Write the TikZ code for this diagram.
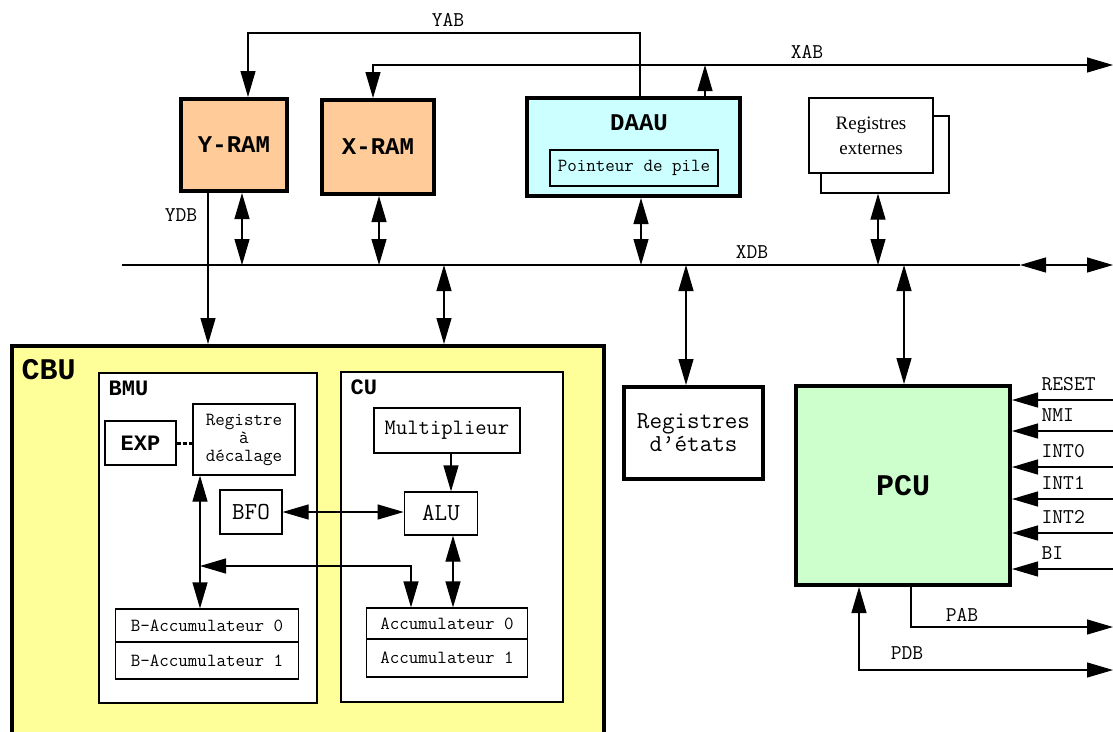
\documentclass[tikz,border=0pt]{standalone}
\usepackage{fontspec}
\setmainfont{Liberation Serif}
\newfontfamily\boldmono{Liberation Mono}
\usetikzlibrary{arrows.meta,positioning}
\definecolor{ramFill}{HTML}{FFCC99}
\definecolor{daauFill}{HTML}{CCFFFF}
\definecolor{cbuFill}{HTML}{FFFF99}
\definecolor{pcuFill}{HTML}{CCFFCC}
\tikzset{
    % unit blocks and inner blocks
    bigunit/.style={draw,line width=4pt,inner sep=0pt,align=center},
    block/.style={draw,line width=1.2pt,fill=white,inner sep=0pt,align=center},
    mono/.style 2 args={font=\ttfamily\fontsize{#1}{#2}\selectfont},
    monob/.style={font=\boldmono\bfseries\fontsize{#1}{#1}\selectfont},
    sig/.style={inner sep=0pt,mono={21pt}{23pt}},
    unitname/.style={inner sep=0pt,anchor=west}
}

\begin{document}
\begin{tikzpicture}[x=1pt,y=1pt,>={Triangle[length=26pt,width=15pt]},line width=1.2pt]
  \useasboundingbox (0,0) rectangle (1113,-731);
  \clip (0,0) rectangle (1113,-731);

  % Memories and address unit
  \node[bigunit,fill=ramFill,minimum width=106pt,minimum height=92pt,monob=24pt] (yram) at (234,-145) {Y-RAM};
  \node[bigunit,fill=ramFill,minimum width=112pt,minimum height=94pt,monob=24pt] (xram) at (378,-147) {X-RAM};
  \node[bigunit,fill=daauFill,minimum width=213pt,minimum height=98pt] (daau) at (633.5,-147) {};
  \node[inner sep=0pt,monob=24pt] (daau-name) at (639,-123) {DAAU};
  \node[block,fill=daauFill,minimum width=168pt,minimum height=36pt,mono={18.5pt}{20pt}] (pile) at (634,-168) {Pointeur de pile};

  % External registers (two stacked sheets)
  \node[block,minimum width=128pt,minimum height=77pt] (regextb) at (885,-154.5) {};
  \node[block,minimum width=124pt,minimum height=75pt,font=\rmfamily\fontsize{19pt}{25pt}\selectfont] (regext) at (871,-135.5) {Registres\\externes};

  % Status registers and program control unit
  \node[bigunit,fill=white,minimum width=139pt,minimum height=92pt,mono={24.4pt}{23pt}] (regst) at (693.5,-433) {Registres\\d’états};
  \node[bigunit,fill=pcuFill,minimum width=214pt,minimum height=199pt,monob=30pt] (pcu) at (903,-485.5) {PCU};

  % CBU with BMU and CU
  \node[bigunit,fill=cbuFill,minimum width=592pt,minimum height=414pt] (cbu) at (308,-553) {};
  \node[unitname,monob=30pt] (cbu-name) at (21,-370) {CBU};
  \node[block,minimum width=218pt,minimum height=330pt] (bmu) at (208,-538) {};
  \node[unitname,monob=22pt] (bmu-name) at (108,-388) {BMU};
  \node[block,minimum width=222pt,minimum height=330pt] (cu) at (452,-537) {};
  \node[unitname,monob=22pt] (cu-name) at (350,-387) {CU};

  \node[block,minimum width=71pt,minimum height=44pt,monob=22pt] (exp) at (140.5,-443) {EXP};
  \node[block,minimum width=102pt,minimum height=71pt,mono={18.5pt}{18pt}] (reg) at (244,-439.5) {Registre\\à\\décalage};
  \node[block,minimum width=62pt,minimum height=44pt,mono={24.4pt}{23pt}] (bfo) at (251,-512) {BFO};
  \node[block,minimum width=146pt,minimum height=45pt,mono={22pt}{21pt}] (mult) at (447,-430.5) {Multiplieur};
  \node[block,minimum width=73.5pt,minimum height=43pt,mono={24.4pt}{23pt}] (alu) at (441,-513.5) {ALU};
  \node[block,minimum width=183.5pt,minimum height=33pt,mono={18.5pt}{18pt}] (bacc0) at (207,-625.5) {B-Accumulateur 0};
  \node[block,minimum width=183.5pt,minimum height=37pt,mono={18.5pt}{18pt},below=-1.2pt of bacc0] (bacc1) {B-Accumulateur 1};
  \node[block,minimum width=161pt,minimum height=31pt,mono={18.5pt}{18pt}] (acc0) at (447,-623.5) {Accumulateur 0};
  \node[block,minimum width=161pt,minimum height=38pt,mono={18.5pt}{18pt},below=-1.2pt of acc0] (acc1) {Accumulateur 1};

  % Bus points
  \coordinate (yab-l) at (248,-33);
  \coordinate (yab-r) at (640,-33);
  \coordinate (xab-l) at (373,-65);
  \coordinate (xab-daau) at (705,-65);
  \coordinate (xab-e) at (1113,-65);
  \coordinate (xdb-w) at (122,-265);
  \coordinate (xdb-r) at (1020,-265);
  \coordinate (xdb-e) at (1113,-265);
  \coordinate (ydb) at (208,-215);
  \foreach \tap/\xx in {yram/242,xram/379,cbu/444,daau/641,regst/686,regext/878,pcu/904}
    \coordinate (t-\tap) at (\xx,-265);

  % Address buses
  \draw[->] (yab-r |- daau.north) -- (yab-r) -- (yab-l) -- (yab-l |- yram.north);
  \draw[<->] (xab-l |- xram.north) -- (xab-l) -- (xab-e);
  \draw[->] (xab-daau |- daau.north) -- (xab-daau);
  \node[sig] (yab-lbl) at (448,-20) {YAB};
  \node[sig] (xab-lbl) at (807,-52) {XAB};

  % Data bus XDB
  \draw (xdb-w) -- (xdb-r);
  \draw[<->] (xdb-r) -- (xdb-e);
  \node[sig] (xdb-lbl) at (752,-252) {XDB};
  \draw[<->] (t-yram |- yram.south) -- (t-yram);
  \draw[<->] (t-xram |- xram.south) -- (t-xram);
  \draw[<->] (t-cbu) -- (t-cbu |- cbu.north);
  \draw[<->] (t-daau |- daau.south) -- (t-daau);
  \draw[<->] (t-regst) -- (t-regst |- regst.north);
  \draw[<->] (t-regext |- regextb.south) -- (t-regext);
  \draw[<->] (t-pcu) -- (t-pcu |- pcu.north);

  % YDB
  \draw[->] (ydb |- yram.south) -- (ydb |- cbu.north);
  \node[sig] (ydb-lbl) at (181,-215) {YDB};

  % Inside CBU
  \draw[line width=3pt,dash pattern=on 4pt off 2pt] (exp.east) -- (exp.east -| reg.west);
  \draw[<->] (bfo.east) -- (bfo.east -| alu.west);
  \coordinate (mjoin) at (451,-470);
  \draw[->] (mjoin |- mult.south) -- (mjoin |- alu.north);
  \coordinate (aljoin) at (453,-570);
  \draw[<->] (aljoin |- alu.south) -- (aljoin |- acc0.north);
  \coordinate (bjoin) at (200,-566);
  \coordinate (ajoin) at (411,-566);
  \draw[<->] (bjoin |- reg.south) -- (bjoin |- bacc0.north);
  \draw[<->] (bjoin) -- (ajoin) -- (ajoin |- acc0.north);

  % PCU inputs
  \foreach \sig/\yy in {RESET/400,NMI/431,INT0/467,INT1/499,INT2/533,BI/569}{
    \coordinate (in-\sig) at (1113,-\yy);
    \draw[->] (in-\sig) -- (in-\sig -| pcu.east);
    \node[sig,anchor=west] (lbl-\sig) at (1041,-\yy+16) {\sig};
  }

  % Program buses
  \coordinate (pab) at (911,-627);
  \coordinate (pab-e) at (1113,-627);
  \coordinate (pdb) at (859,-670);
  \coordinate (pdb-e) at (1113,-670);
  \draw[->] (pab |- pcu.south) -- (pab) -- (pab-e);
  \draw[<->] (pdb |- pcu.south) -- (pdb) -- (pdb-e);
  \node[sig] (pab-lbl) at (962,-615) {PAB};
  \node[sig] (pdb-lbl) at (907,-653) {PDB};
\end{tikzpicture}
\end{document}
